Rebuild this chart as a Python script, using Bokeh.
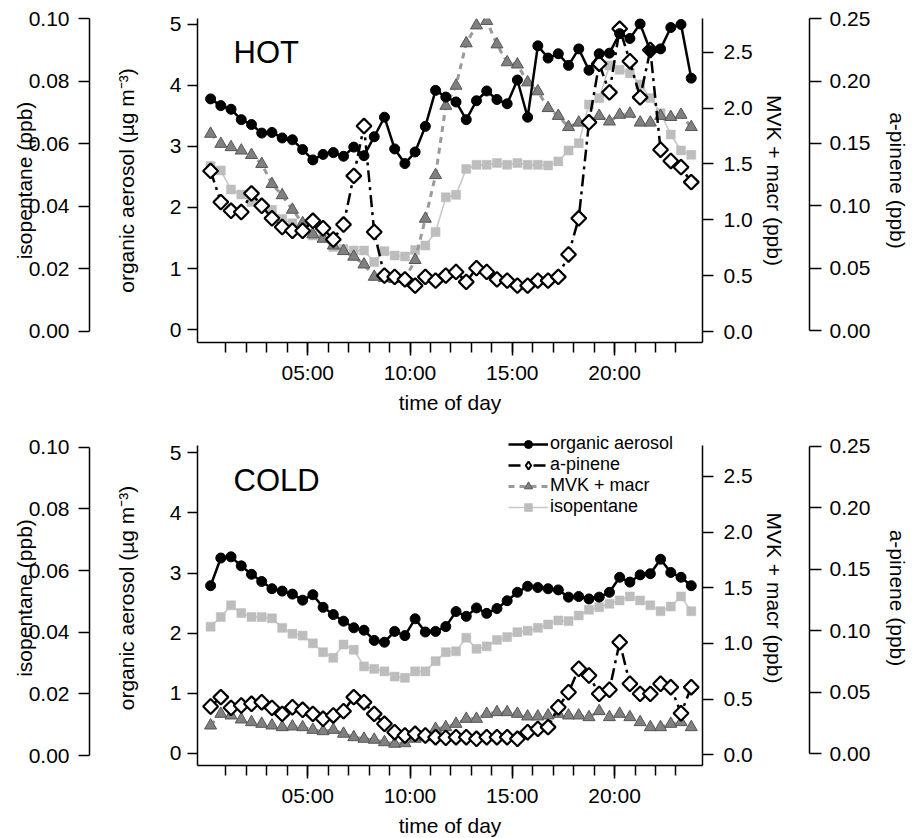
from bokeh.plotting import figure
from bokeh.models import (LinearAxis, Range1d, FixedTicker, Label, Legend,
                          LegendItem, NumeralTickFormatter)
from bokeh.layouts import column
from bokeh.embed import file_html
from bokeh.resources import INLINE
import math

# ---------------- data ----------------
hours = [0.25, 0.75, 1.25, 1.75, 2.25, 2.75, 3.25, 3.75, 4.25, 4.75, 5.25, 5.75,
         6.25, 6.75, 7.25, 7.75, 8.25, 8.75, 9.25, 9.75, 10.25, 10.75, 11.25, 11.75,
         12.25, 12.75, 13.25, 13.75, 14.25, 14.75, 15.25, 15.75, 16.25, 16.75, 17.25, 17.75,
         18.25, 18.75, 19.25, 19.75, 20.25, 20.75, 21.25, 21.75, 22.25, 22.75, 23.25, 23.75]

hot_organic = [3.78, 3.67, 3.61, 3.44, 3.36, 3.22, 3.23, 3.14, 3.11, 2.95, 2.78, 2.87,
               2.90, 2.84, 2.99, 2.85, 3.16, 3.48, 2.96, 2.72, 2.91, 3.33, 3.92, 3.81,
               3.73, 3.44, 3.75, 3.91, 3.77, 3.70, 4.09, 3.48, 4.65, 4.45, 4.52, 4.33,
               4.60, 4.25, 4.52, 4.53, 4.85, 4.77, 5.01, 4.57, 4.60, 4.95, 5.00, 4.12]
hot_apinene = [0.128, 0.103, 0.096, 0.095, 0.110, 0.100, 0.090, 0.083, 0.080, 0.080, 0.088, 0.082,
               0.073, 0.085, 0.124, 0.164, 0.079, 0.044, 0.043, 0.041, 0.036, 0.043, 0.040, 0.044,
               0.047, 0.039, 0.050, 0.047, 0.041, 0.040, 0.036, 0.036, 0.040, 0.040, 0.043, 0.061,
               0.090, 0.167, 0.214, 0.191, 0.242, 0.216, 0.187, 0.225, 0.145, 0.136, 0.131, 0.119]
hot_mvk = [1.77, 1.68, 1.65, 1.62, 1.58, 1.50, 1.32, 1.22, 1.09, 0.97, 0.87, 0.83,
           0.77, 0.72, 0.67, 0.60, 0.49, 0.48, 0.47, 0.47, 0.64, 1.01, 1.40, 2.02,
           2.20, 2.58, 2.74, 2.78, 2.57, 2.41, 2.39, 2.23, 2.15, 2.00, 1.93, 1.83,
           1.87, 1.88, 1.93, 1.88, 1.94, 1.95, 1.87, 1.87, 1.93, 1.92, 1.94, 1.83]
hot_isopentane = [0.0529, 0.0515, 0.0454, 0.0438, 0.0414, 0.0403, 0.0389, 0.0360, 0.0346, 0.0320, 0.0307, 0.0307,
                  0.0270, 0.0264, 0.0259, 0.0259, 0.0222, 0.0257, 0.0243, 0.0240, 0.0261, 0.0275, 0.0318, 0.0429,
                  0.0437, 0.0520, 0.0533, 0.0533, 0.0539, 0.0533, 0.0539, 0.0533, 0.0533, 0.0531, 0.0544, 0.0579,
                  0.0602, 0.0726, 0.0746, 0.0851, 0.0837, 0.0826, 0.0790, 0.0747, 0.0698, 0.0630, 0.0579, 0.0565]

cold_organic = [2.79, 3.25, 3.27, 3.12, 2.98, 2.86, 2.74, 2.70, 2.65, 2.55, 2.64, 2.43,
                2.31, 2.20, 2.09, 2.05, 1.88, 1.85, 2.03, 1.96, 2.24, 2.02, 2.03, 2.11,
                2.36, 2.28, 2.42, 2.33, 2.41, 2.54, 2.68, 2.78, 2.76, 2.74, 2.72, 2.60,
                2.61, 2.57, 2.60, 2.68, 2.93, 2.85, 2.97, 2.99, 3.23, 3.01, 2.93, 2.79]
cold_apinene = [0.0385, 0.0461, 0.0374, 0.0393, 0.0407, 0.0420, 0.0374, 0.0325, 0.0379, 0.0358, 0.0325, 0.0285,
                0.0312, 0.0347, 0.0461, 0.0420, 0.0325, 0.0244, 0.0176, 0.0149, 0.0163, 0.0149, 0.0135, 0.0130,
                0.0135, 0.0135, 0.0122, 0.0135, 0.0135, 0.0135, 0.0122, 0.0176, 0.0203, 0.0217, 0.0379, 0.0501,
                0.0692, 0.0637, 0.0488, 0.0521, 0.0908, 0.0570, 0.0488, 0.0488, 0.0570, 0.0542, 0.0330, 0.0542]
cold_mvk = [0.263, 0.368, 0.353, 0.317, 0.293, 0.278, 0.263, 0.248, 0.254, 0.248, 0.224, 0.212,
            0.224, 0.189, 0.158, 0.144, 0.135, 0.113, 0.099, 0.104, 0.144, 0.158, 0.233, 0.248,
            0.278, 0.323, 0.323, 0.368, 0.383, 0.383, 0.368, 0.344, 0.344, 0.353, 0.368, 0.353,
            0.353, 0.338, 0.392, 0.338, 0.368, 0.338, 0.293, 0.248, 0.248, 0.278, 0.293, 0.248]
cold_isopentane = [0.0418, 0.0449, 0.0487, 0.0462, 0.0449, 0.0449, 0.0445, 0.0414, 0.0395, 0.0389, 0.0364, 0.0335,
                   0.0317, 0.0360, 0.0343, 0.0289, 0.0281, 0.0273, 0.0256, 0.0252, 0.0273, 0.0273, 0.0306, 0.0335,
                   0.0338, 0.0382, 0.0346, 0.0354, 0.0375, 0.0384, 0.0400, 0.0405, 0.0414, 0.0425, 0.0438, 0.0436,
                   0.0454, 0.0473, 0.0481, 0.0492, 0.0503, 0.0516, 0.0503, 0.0487, 0.0468, 0.0483, 0.0516, 0.0468]

x_major_ticks = [5, 10, 15, 20]
x_major_labels = ["05:00", "10:00", "15:00", "20:00"]
x_minor_ticks = [1, 2, 3, 4, 5, 6, 7, 8, 9, 10, 11, 12, 13, 14, 15, 16, 17, 18, 19, 20, 21, 22, 23]
oa_ticks = [0, 1, 2, 3, 4, 5]
mvk_ticks = [0.0, 0.5, 1.0, 1.5, 2.0, 2.5]
iso_ticks = [0.0, 0.02, 0.04, 0.06, 0.08, 0.10]
apin_ticks = [0.0, 0.05, 0.10, 0.15, 0.20, 0.25]

series_names = ["organic aerosol", "a-pinene", "MVK + macr", "isopentane"]

FONT = "Liberation Sans"
TICK_FS = "21px"
LABEL_FS = "21px"


def style_axis(ax, tick_out, standoff):
    ax.axis_line_color = "black"
    ax.axis_line_width = 1.5
    ax.major_tick_line_color = "black"
    ax.major_tick_line_width = 1.5
    ax.major_tick_in = 0
    ax.major_tick_out = tick_out
    ax.minor_tick_line_color = None
    ax.major_label_standoff = standoff
    ax.major_label_text_font = FONT
    ax.major_label_text_font_size = TICK_FS
    ax.major_label_text_color = "black"
    ax.axis_label_text_font = FONT
    ax.axis_label_text_font_size = LABEL_FS
    ax.axis_label_text_font_style = "normal"
    ax.axis_label_text_color = "black"


def spacer(width):
    # invisible axis used only to push the next stacked axis outward
    return LinearAxis(ticker=FixedTicker(ticks=[0]), axis_line_color=None,
                      major_tick_line_color=None, minor_tick_line_color=None,
                      major_tick_out=width, major_tick_in=0, minor_tick_out=0,
                      minor_tick_in=0, major_label_standoff=0,
                      major_label_text_font_size="1px", major_label_text_color=None,
                      axis_label=None)


def make_panel(tag, org, apin, mvk, iso, frame_h, top_b, bot_b, rng, bnd, tag_y, legend):
    p = figure(frame_width=505, frame_height=frame_h,
               min_border_left=197, min_border_right=210,
               min_border_top=top_b, min_border_bottom=bot_b,
               x_range=Range1d(-0.39, 24.3), y_range=Range1d(*rng["oa"]),
               output_backend="svg", toolbar_location=None,
               background_fill_color="white", border_fill_color="white",
               outline_line_color=None)
    p.xgrid.visible = False
    p.ygrid.visible = False
    p.extra_y_ranges = {"mvk": Range1d(*rng["mvk"]), "iso": Range1d(*rng["iso"]),
                        "apin": Range1d(*rng["apin"])}

    # x axis
    xa = p.xaxis[0]
    style_axis(xa, 13, 5)
    xa.ticker = FixedTicker(ticks=x_major_ticks, minor_ticks=x_minor_ticks)
    xa.major_label_overrides = dict(zip(x_major_ticks, x_major_labels))
    xa.minor_tick_line_color = "black"
    xa.minor_tick_line_width = 1.5
    xa.minor_tick_in = 0
    xa.minor_tick_out = 10
    xa.axis_label = "time of day"
    xa.axis_label_standoff = 4

    # left main axis
    ya = p.yaxis[0]
    style_axis(ya, 10, 6)
    ya.ticker = FixedTicker(ticks=oa_ticks)
    ya.bounds = bnd["oa"]
    ya.axis_label = "organic aerosol (\u00b5g m\u207b\u00b3)"
    ya.axis_label_standoff = 29

    p.add_layout(spacer(22), "left")
    iso_ax = LinearAxis(y_range_name="iso", bounds=(0, 0.1),
                        ticker=FixedTicker(ticks=iso_ticks),
                        formatter=NumeralTickFormatter(format="0.00"),
                        axis_label="isopentane (ppb)")
    style_axis(iso_ax, 11, 9)
    iso_ax.axis_label_standoff = -10
    p.add_layout(iso_ax, "left")

    mvk_ax = LinearAxis(y_range_name="mvk", ticker=FixedTicker(ticks=mvk_ticks),
                        formatter=NumeralTickFormatter(format="0.0"),
                        axis_label="MVK + macr (ppb)", bounds=bnd["mvk"])
    style_axis(mvk_ax, 11, 10)
    mvk_ax.axis_label_standoff = 7
    p.add_layout(mvk_ax, "right")
    p.add_layout(spacer(21), "right")
    ap_ax = LinearAxis(y_range_name="apin", bounds=(0, 0.25),
                       ticker=FixedTicker(ticks=apin_ticks),
                       formatter=NumeralTickFormatter(format="0.00"),
                       axis_label="a-pinene (ppb)")
    style_axis(ap_ax, 12, 8)
    ap_ax.axis_label_standoff = 13
    p.add_layout(ap_ax, "right")

    # isopentane
    iso_l = p.line(hours, iso, y_range_name="iso", line_color="#c8c8c8", line_width=1.6)
    iso_m = p.scatter(hours, iso, y_range_name="iso", marker="square", size=9,
                      fill_color="#bdbdbd", line_color="#bdbdbd", line_width=0.5)
    # MVK + macr
    mvk_l = p.line(hours, mvk, y_range_name="mvk", line_color="#9a9a9a", line_width=3,
                   line_dash="6 5")
    mvk_m = p.scatter(hours, mvk, y_range_name="mvk", marker="triangle", size=12,
                      fill_color="#808080", line_color="#555555", line_width=1)
    # a-pinene
    ap_l = p.line(hours, apin, y_range_name="apin", line_color="black", line_width=2.5,
                  line_dash="12 5 3 5")
    # legend key symbol: sits under the first a-pinene marker (hidden there)
    ap_key = p.scatter(hours[:1], apin[:1], y_range_name="apin", marker="diamond",
                       size=12, fill_color="white", line_color="black", line_width=2)
    ap_m = p.scatter(hours, apin, y_range_name="apin", marker="square", size=10.5,
                     angle=math.pi / 4, fill_color="white", line_color="black", line_width=2.2)
    # organic aerosol
    oa_l = p.line(hours, org, line_color="black", line_width=2.5)
    oa_m = p.scatter(hours, org, marker="circle", size=10, fill_color="black",
                     line_color="black")

    p.add_layout(Label(x=36, y=tag_y, x_units="screen", y_units="screen", text=tag,
                       text_font=FONT, text_font_size="31px", text_baseline="alphabetic",
                       text_color="black"))

    if legend:
        items = [LegendItem(label=series_names[0], renderers=[oa_l, oa_m]),
                 LegendItem(label=series_names[1], renderers=[ap_l, ap_key]),
                 LegendItem(label=series_names[2], renderers=[mvk_l, mvk_m]),
                 LegendItem(label=series_names[3], renderers=[iso_l, iso_m])]
        lg = Legend(items=items, location=(311, 248), padding=0, margin=0, spacing=0,
                    label_standoff=2, glyph_width=40, glyph_height=20, label_height=20,
                    label_text_font=FONT, label_text_font_size="18px",
                    label_text_color="black",
                    border_line_color=None, background_fill_alpha=0)
        p.add_layout(lg)
    return p


top = make_panel("HOT", hot_organic, hot_apinene, hot_mvk, hot_isopentane,
                 324, 18, 78,
                 {"oa": (-0.213, 5.098), "mvk": (-0.098, 2.802),
                  "iso": (-0.00352, 0.1001), "apin": (-0.00962, 0.25024)},
                 {"oa": (-0.213, 5.098), "mvk": (-0.098, 2.802)},
                 290, False)
bottom = make_panel("COLD", cold_organic, cold_apinene, cold_mvk, cold_isopentane,
                    335, 10, 73,
                    {"oa": (-0.2, 5.371), "mvk": (-0.096, 2.913),
                     "iso": (-0.00324, 0.10542), "apin": (-0.0095, 0.2630)},
                    {"oa": (-0.2, 5.121), "mvk": (-0.096, 2.778)},
                    285, True)

layout = column(top, bottom, spacing=0)
open("out.html", "w").write(file_html(layout, INLINE))
